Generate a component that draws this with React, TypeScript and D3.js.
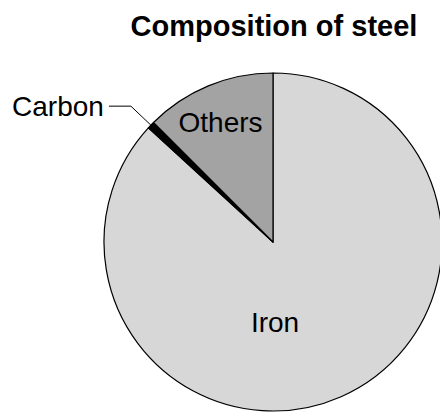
import React from "react";
import * as d3 from "d3";

// Composition of steel, in percent
const categories = ["Iron", "Carbon", "Others"];
const shares = [86.8, 0.7, 12.5];
const fills = ["#d7d7d7", "#000000", "#a3a3a3"];
const title = "Composition of steel";

const W = 440;
const H = 412;
const cx = 273;
const cy = 242;
const R = 169;

export default function App() {
  const pie = d3
    .pie<number>()
    .sort(null)
    .value((d) => d);
  const arcs = pie(shares);
  const arc = d3.arc<d3.PieArcDatum<number>>().innerRadius(0).outerRadius(R);

  const carbon = arcs[1];
  const mid = (carbon.startAngle + carbon.endAngle) / 2;
  const edge: [number, number] = [Math.sin(mid) * R, -Math.cos(mid) * R];
  const elbow: [number, number] = [edge[0] - 20, edge[1] - 19];
  const leader = d3.line()([edge, elbow, [elbow[0] - 22, elbow[1]]]);

  const others = arcs[2];
  const oMid = (others.startAngle + others.endAngle) / 2;
  const oPos = [Math.sin(oMid) * R * 0.78 - 2, -Math.cos(oMid) * R * 0.78 + 12];

  const font = "Liberation Sans, Arial, sans-serif";

  return (
    <svg
      width={W}
      height={H}
      style={{ position: "absolute", left: 0, top: 0, background: "#fff" }}
    >
      <text
        x={274}
        y={36}
        textAnchor="middle"
        fontFamily={font}
        fontWeight="bold"
        fontSize={29}
        fill="#000"
      >
        {title}
      </text>
      <g transform={`translate(${cx},${cy})`}>
        {arcs.map((a, i) => (
          <path
            key={categories[i]}
            d={arc(a) ?? ""}
            fill={fills[i]}
            stroke="#000"
            strokeWidth={1.2}
            strokeLinejoin="round"
          />
        ))}
        <path d={leader ?? ""} fill="none" stroke="#000" strokeWidth={1} />
        <text
          x={elbow[0] - 27}
          y={elbow[1] + 10}
          textAnchor="end"
          fontFamily={font}
          fontSize={28}
          fill="#000"
        >
          {categories[1]}
        </text>
        <text
          x={oPos[0]}
          y={oPos[1]}
          textAnchor="middle"
          fontFamily={font}
          fontSize={28}
          fill="#000"
        >
          {categories[2]}
        </text>
        <text
          x={2}
          y={90}
          textAnchor="middle"
          fontFamily={font}
          fontSize={28}
          fill="#000"
        >
          {categories[0]}
        </text>
      </g>
    </svg>
  );
}
